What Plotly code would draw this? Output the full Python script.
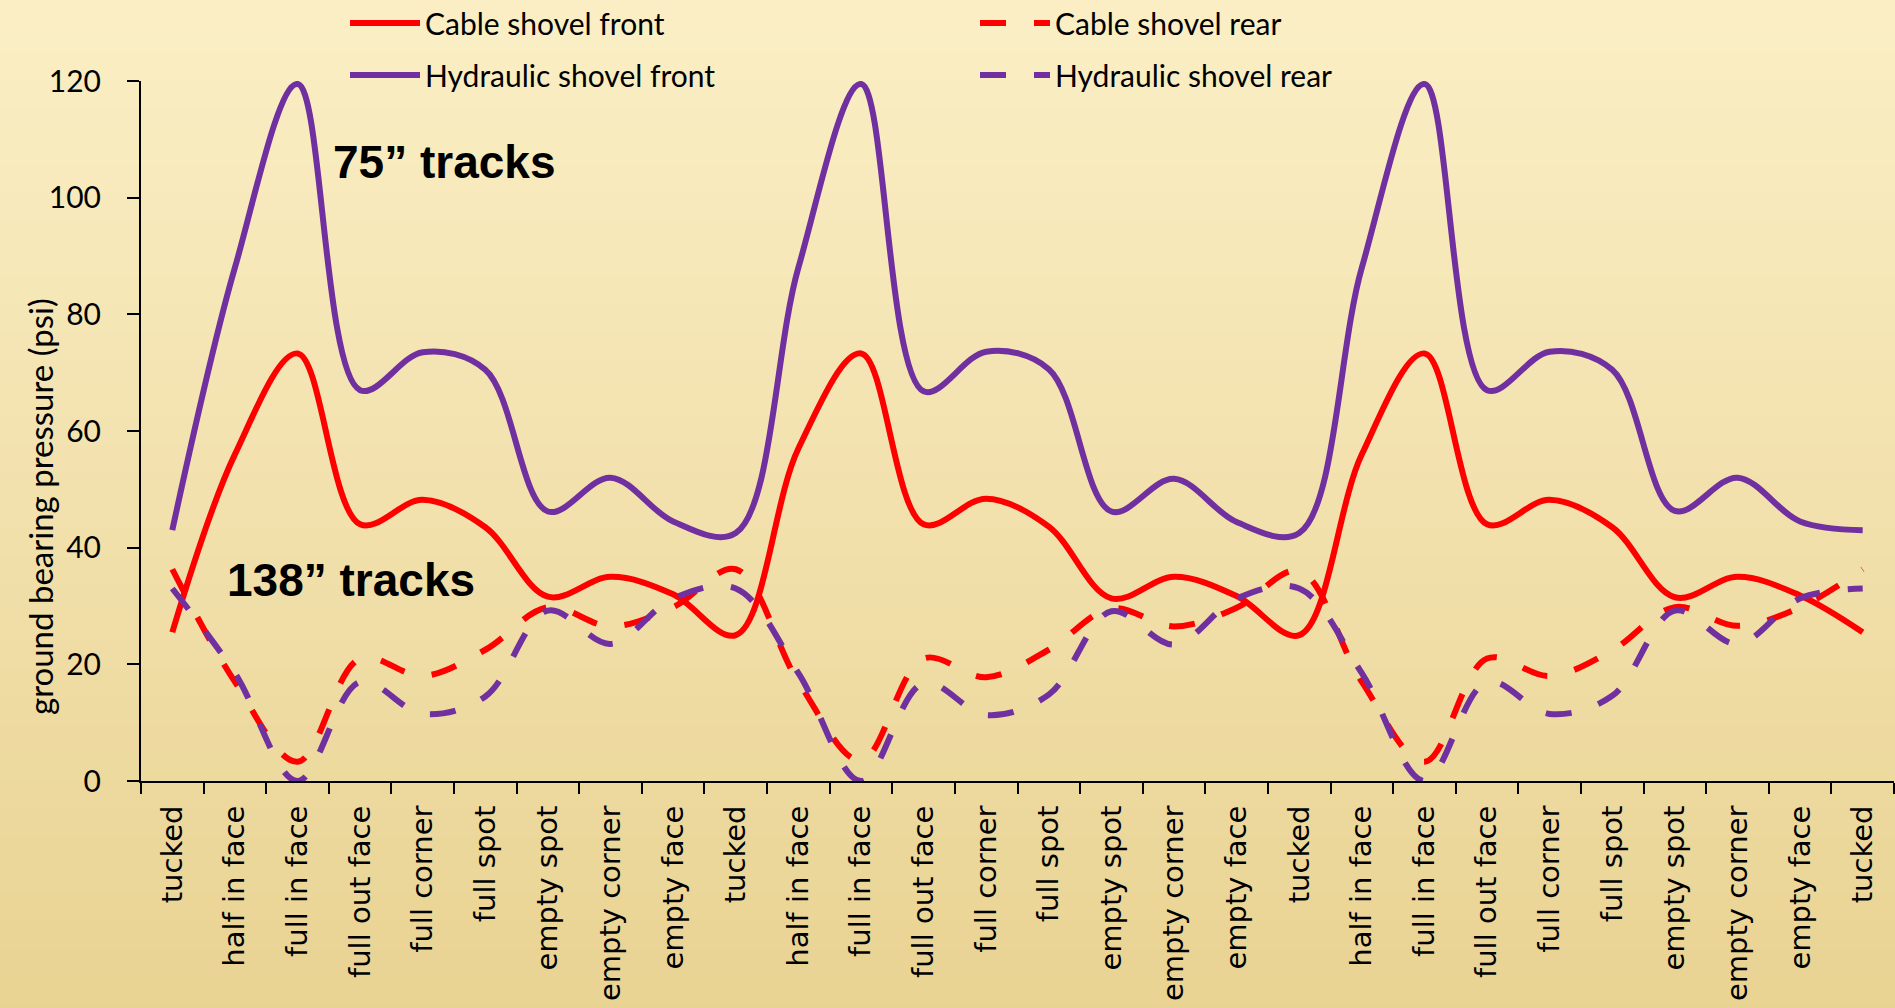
import plotly.graph_objects as go

# ── Data ────────────────────────────────────────────────────────────────────
positions = [
    "tucked", "half in face", "full in face", "full out face", "full corner",
    "full spot", "empty spot", "empty corner", "empty face",
    "tucked", "half in face", "full in face", "full out face", "full corner",
    "full spot", "empty spot", "empty corner", "empty face",
    "tucked", "half in face", "full in face", "full out face", "full corner",
    "full spot", "empty spot", "empty corner", "empty face",
    "tucked",
]

cable_front = [
    25.5, 56, 73.3, 44, 48.2, 43.5, 31.6, 35, 32,
    25, 57, 73.3, 44, 48.4, 43.6, 31.3, 35, 31.7,
    25, 56, 73.3, 44, 48.2, 43.5, 31.5, 35, 31.8,
    25.5,
]
cable_rear = [
    36.3, 17, 3.3, 21, 18, 22.5, 29.8, 26.5, 29.8,
    36.3, 17, 3.5, 21, 17.8, 22.5, 29.6, 26.5, 29.7,
    36, 17, 3.3, 21, 18, 22.4, 29.8, 26.6, 29.8,
    36.3,
]
hydraulic_front = [
    43, 88, 119.5, 67, 73.5, 70.5, 46.2, 52, 44.5,
    42.5, 88, 119.5, 66.8, 73.6, 70.6, 46.2, 51.8, 44.4,
    42.5, 88, 119.5, 67, 73.6, 70.5, 46.3, 52, 44.5,
    43,
]
hydraulic_rear = [
    33, 18.5, 0, 17, 11.5, 14.5, 29.2, 23.5, 31.3,
    33, 18.5, 0, 16.8, 11.3, 14.8, 29.1, 23.4, 31.3,
    33, 18.5, 0, 17, 11.5, 14.6, 29.2, 23.5, 31.3,
    33,
]

y_ticks = [0, 20, 40, 60, 80, 100, 120]

# ── Style ───────────────────────────────────────────────────────────────────
RED = "#FF0000"
PURPLE = "#7030A0"
DASH = "26px,28px"
LABEL_FONT = "Lato, 'Open Sans', sans-serif"
CAT_FONT = "'DejaVu Sans', Verdana, sans-serif"
BOLD_FONT = "'Liberation Sans', Arial, sans-serif"

W, H = 1895, 1008
M = dict(l=141, r=1, t=81, b=227, autoexpand=False)

x_idx = list(range(len(positions)))
boundaries = [i - 0.5 for i in range(len(positions) + 1)]

fig = go.Figure()

series = [
    ("Cable shovel front", cable_front, RED, "solid", "legend"),
    ("Cable shovel rear", cable_rear, RED, DASH, "legend"),
    ("Hydraulic shovel front", hydraulic_front, PURPLE, "solid", "legend2"),
    ("Hydraulic shovel rear", hydraulic_rear, PURPLE, DASH, "legend2"),
]
for name, vals, color, dash, leg in series:
    fig.add_trace(go.Scatter(
        x=x_idx,
        y=vals,
        mode="lines",
        name=name,
        legend=leg,
        line=dict(color=color, width=6, dash=dash, shape="spline", smoothing=1),
        hovertemplate="%{text}: %{y}<extra>" + name + "</extra>",
        text=positions,
    ))

# background: soft vertical gradient, light cream at top to darker straw at bottom
top_rgb = (252, 240, 200)
bot_rgb = (232, 210, 145)
n_bands = 40
for k in range(n_bands):
    t = k / (n_bands - 1)
    c = tuple(round(a + (b - a) * t) for a, b in zip(top_rgb, bot_rgb))
    fig.add_shape(
        type="rect", xref="paper", yref="paper", layer="below",
        x0=-0.1, x1=1.1,
        y0=1.2 - (k + 1) * 1.6 / n_bands, y1=1.2 - k * 1.6 / n_bands,
        fillcolor="rgb(%d,%d,%d)" % c, line=dict(width=0),
    )

legend_common = dict(
    orientation="h",
    xref="container", yref="container",
    xanchor="left", yanchor="middle",
    bgcolor="rgba(0,0,0,0)",
    font=dict(family=LABEL_FONT, size=30, color="black"),
    entrywidth=545,
    itemwidth=70,
    traceorder="normal",
)

fig.update_layout(
    width=W, height=H,
    margin=M,
    paper_bgcolor="#F3E2AE",
    plot_bgcolor="rgba(0,0,0,0)",
    showlegend=True,
    legend=dict(legend_common, x=345 / W, y=1 - 23 / H),
    legend2=dict(legend_common, x=345 / W, y=1 - 75 / H),
    xaxis=dict(
        range=[-0.5, len(positions) - 0.5],
        tickmode="array",
        tickvals=x_idx,
        ticktext=positions,
        tickangle=-90,
        ticks="",
        ticklabelstandoff=11,
        tickfont=dict(family=CAT_FONT, size=29, color="black"),
        minor=dict(tickmode="array", tickvals=boundaries, ticks="outside",
                   ticklen=11, tickwidth=2, tickcolor="black"),
        showline=True, linecolor="black", linewidth=2,
        showgrid=False, zeroline=False, automargin=False,
    ),
    yaxis=dict(
        range=[0, 120],
        tickmode="array",
        tickvals=y_ticks,
        ticks="outside", ticklen=12, tickwidth=2, tickcolor="black",
        ticklabelstandoff=20,
        tickfont=dict(family=LABEL_FONT, size=30, color="black"),
        showline=True, linecolor="black", linewidth=2,
        showgrid=False, zeroline=False, automargin=False,
    ),
    annotations=[
        dict(text="ground bearing pressure (psi)", textangle=-90,
             xref="paper", yref="paper", x=(40 - M["l"]) / (W - M["l"] - M["r"]),
             y=(H - M["b"] - 507) / (H - M["t"] - M["b"]),
             xanchor="center", yanchor="middle", showarrow=False,
             font=dict(family=LABEL_FONT, size=33, color="black")),
        dict(text="75” tracks", x=4.34, y=106.2, xref="x", yref="y",
             showarrow=False, xanchor="center", yanchor="middle",
             font=dict(family=BOLD_FONT, size=46, color="black", weight="bold")),
        dict(text="138” tracks", x=2.86, y=34.4, xref="x", yref="y",
             showarrow=False, xanchor="center", yanchor="middle",
             font=dict(family=BOLD_FONT, size=46, color="black", weight="bold")),
    ],
)

fig.write_html("out.html", config=dict(displayModeBar=False),
               post_script="document.body.style.margin='0';")
